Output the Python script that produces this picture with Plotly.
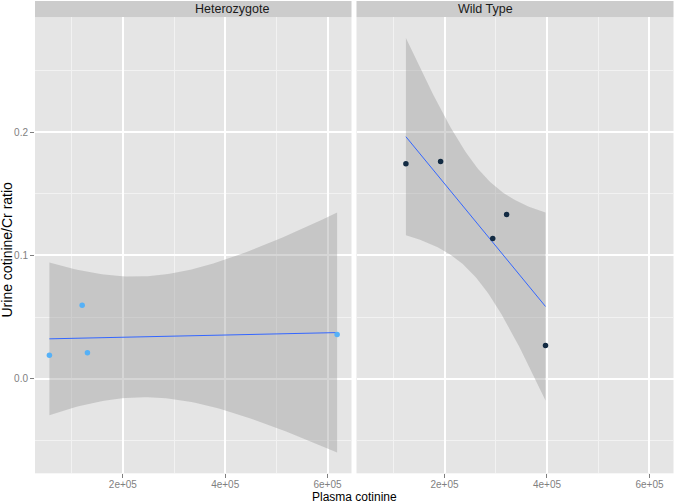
import numpy as np
import plotly.graph_objects as go

# values
panels = ['Heterozygote', 'Wild Type']
het_plasma = [56300, 120400, 130700, 618800]
het_ratio = [0.0190, 0.0596, 0.0210, 0.0359]
wt_plasma = [124600, 192300, 294100, 321200, 397100]
wt_ratio = [0.1744, 0.1763, 0.1137, 0.1333, 0.0269]

x_ticks = [2e5, 4e5, 6e5]
x_labels = ['2e+05', '4e+05', '6e+05']
y_ticks = [0.0, 0.1, 0.2]
y_labels = ['0.0', '0.1', '0.2']

# t quantiles (0.975) by residual degrees of freedom
T975 = {2: 4.303, 3: 3.182}


def lm_band(x, y, n=80):
    # same thing geom_smooth(method='lm') draws: fit + 95% confidence band
    x = np.asarray(x, float)
    y = np.asarray(y, float)
    slope, icpt = np.polyfit(x, y, 1)
    dof = len(x) - 2
    s = np.sqrt(np.sum((y - (icpt + slope * x)) ** 2) / dof)
    grid = np.linspace(x.min(), x.max(), n)
    fit = icpt + slope * grid
    se = s * np.sqrt(1 / len(x) + (grid - x.mean()) ** 2 / np.sum((x - x.mean()) ** 2))
    return grid, fit, fit - T975[dof] * se, fit + T975[dof] * se


groups = [
    (het_plasma, het_ratio, '#56B1F7', 'x', 'y'),
    (wt_plasma, wt_ratio, '#132B43', 'x2', 'y2'),
]

fig = go.Figure()
all_x, all_y = [], []
for xs, ys, col, xa, ya in groups:
    grid, fit, lo, hi = lm_band(xs, ys)
    all_x += list(xs)
    all_y += list(lo) + list(hi) + list(ys)
    fig.add_trace(go.Scatter(
        x=np.concatenate([grid, grid[::-1]]), y=np.concatenate([hi, lo[::-1]]),
        fill='toself', fillcolor='rgba(153,153,153,0.4)', line=dict(width=0),
        mode='lines', xaxis=xa, yaxis=ya, hoverinfo='skip', showlegend=False))
    fig.add_trace(go.Scatter(
        x=grid, y=fit, mode='lines', line=dict(color='#3366FF', width=1),
        xaxis=xa, yaxis=ya, showlegend=False))
    fig.add_trace(go.Scatter(
        x=xs, y=ys, mode='markers', marker=dict(color=col, size=5.5),
        xaxis=xa, yaxis=ya, showlegend=False))

# ggplot-style 5% expansion
xr = [min(all_x), max(all_x)]
yr = [min(all_y), max(all_y)]
xpad = (xr[1] - xr[0]) * 0.05
ypad = (yr[1] - yr[0]) * 0.05
x_range = [xr[0] - xpad, xr[1] + xpad]
y_range = [yr[0] - ypad, yr[1] + ypad]

W, H = 675, 504
doms = [[35 / W, 351.5 / W], [356.5 / W, 673.5 / W]]
ydom = [1 - 473.3 / H, 1 - 17.3 / H]

axis_common = dict(
    showgrid=True, gridcolor='white', gridwidth=1.6, zeroline=False,
    ticks='outside', ticklen=4, tickwidth=1, tickcolor='#7F7F7F',
    tickfont=dict(size=10, color='#7F7F7F'), showline=False, automargin=False,
)
minor_grid = dict(showgrid=True, gridcolor='#F2F2F2', gridwidth=0.8, ticks='')

fig.update_layout(
    width=W, height=H,
    margin=dict(l=0, r=0, t=0, b=0),
    paper_bgcolor='white', plot_bgcolor='#E5E5E5',
    font=dict(family='Liberation Sans, Arial, sans-serif', color='#1A1A1A'),
    xaxis=dict(domain=doms[0], range=x_range, tickvals=x_ticks, ticktext=x_labels,
               minor=dict(dtick=1e5, tick0=0, **minor_grid), anchor='y',
               ticklabelstandoff=-2, **axis_common),
    xaxis2=dict(domain=doms[1], range=x_range, tickvals=x_ticks, ticktext=x_labels,
                minor=dict(dtick=1e5, tick0=0, **minor_grid), anchor='y2',
                ticklabelstandoff=-2, **axis_common),
    yaxis=dict(domain=ydom, range=y_range, tickvals=y_ticks, ticktext=y_labels,
               minor=dict(dtick=0.05, tick0=0, **minor_grid), anchor='x', **axis_common),
    yaxis2=dict(domain=ydom, range=y_range, tickvals=y_ticks, showticklabels=False,
                minor=dict(dtick=0.05, tick0=0, **minor_grid), anchor='x2',
                **{**axis_common, 'ticks': ''}),
)

# facet strips
for name, dom in zip(panels, doms):
    fig.add_shape(type='rect', xref='paper', yref='paper', x0=dom[0], x1=dom[1],
                  y0=ydom[1], y1=1 - 1 / H, fillcolor='#CCCCCC', line=dict(width=0),
                  layer='below')
    fig.add_annotation(text=name, xref='paper', yref='paper', x=(dom[0] + dom[1]) / 2,
                       y=(ydom[1] + 1 - 1 / H) / 2, showarrow=False,
                       font=dict(size=12.5, color='#1A1A1A'), yanchor='middle')

fig.add_annotation(text='Plasma cotinine', xref='paper', yref='paper',
                   x=(doms[0][0] + doms[1][1]) / 2, y=1 - 497 / H, showarrow=False,
                   font=dict(size=12, color='black'), yanchor='middle')
fig.add_annotation(text='Urine cotinine/Cr ratio', xref='paper', yref='paper',
                   x=6.5 / W, y=1 - 250 / H, showarrow=False, textangle=-90,
                   font=dict(size=14, color='black'), xanchor='center', yanchor='middle')

# drop the browser's default 8px body margin so the figure sits at the window corner
fig.write_html('out.html', config={'displayModeBar': False},
               post_script="document.body.style.margin='0';")
